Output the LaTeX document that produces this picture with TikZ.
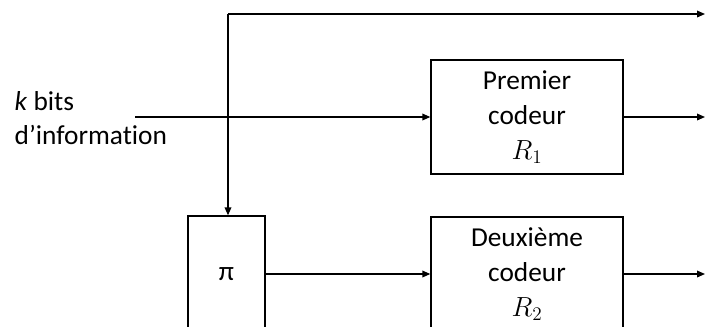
\documentclass[tikz,border=0pt]{standalone}
\usepackage{fontspec}
\setmainfont[Ligatures=NoCommon]{Carlito}
\usetikzlibrary{arrows.meta}
\begin{document}
\begin{tikzpicture}[x=0.75pt,y=-0.75pt,
  line width=1pt,
  every node/.style={font=\fontsize{20.5}{26}\selectfont},
  block/.style={draw,line width=1pt,minimum width=192*0.75pt,minimum height=114*0.75pt,align=center,inner sep=0pt},
  pibox/.style={draw,line width=1pt,minimum width=77*0.75pt,minimum height=116*0.75pt,inner sep=0pt},
  arr/.style={-{Triangle[length=6pt,width=5pt]}}]
\useasboundingbox (0,0) rectangle (707,326);
\clip (0,0) rectangle (707,326);
\node[block] (c1) at (527,117) {Premier\\codeur\\$R_1$};
\node[block] (c2) at (527,274) {Deuxième\\codeur\\$R_2$};
\node[pibox] (pi) at (226.5,274) {π};
\node[anchor=west,align=left,inner sep=0pt] (lbl) at (14,118) {\textit{k} bits\\d’information};
\coordinate (in) at (135,117);
\coordinate (tl) at (228,14);
\coordinate (o0) at (705,14);
\coordinate (o1) at (705,117);
\coordinate (o2) at (705,274);
\draw[arr] (in) -- (c1.west);
\draw[arr] (tl) -- (tl |- pi.north);
\draw[arr] (tl) -- (o0);
\draw[arr] (c1.east) -- (o1);
\draw[arr] (pi.east |- c2.west) -- (c2.west);
\draw[arr] (c2.east) -- (o2);
\end{tikzpicture}
\end{document}
